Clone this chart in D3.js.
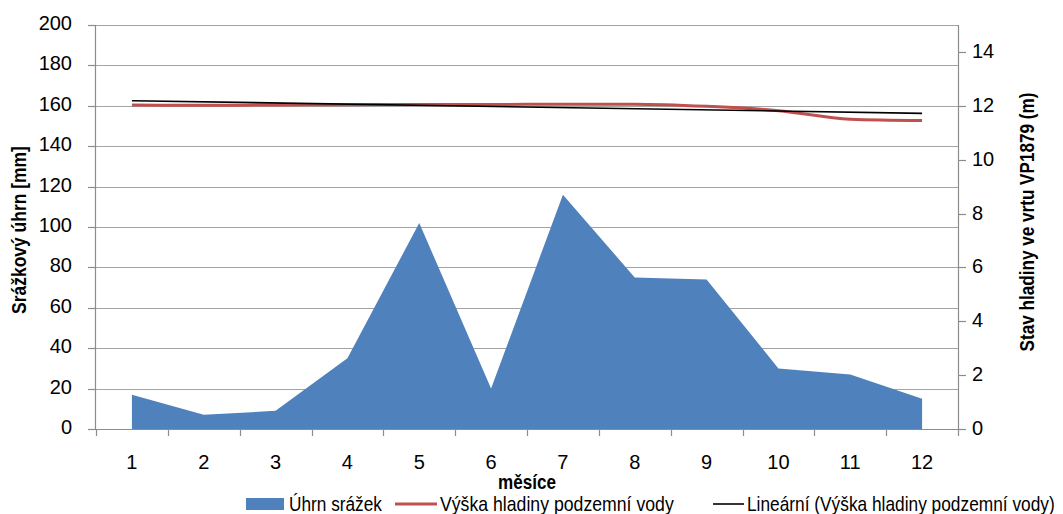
<!DOCTYPE html>
<html>
<head>
<meta charset="utf-8">
<script src="https://cdn.jsdelivr.net/npm/d3@7"></script>
<style>
  html, body { margin: 0; padding: 0; background: #fff; }
  svg { display: block; }
  text { font-family: 'Liberation Sans Narrow', 'Liberation Sans', Arial, sans-serif; fill: #000; }
</style>
</head>
<body>
<svg id="chart" width="1063" height="514"></svg>
<script>
// ---- data ----
const months = [1, 2, 3, 4, 5, 6, 7, 8, 9, 10, 11, 12];
const precipitation = [17, 7, 9, 35, 102, 20, 116, 75, 74, 30, 27, 15];            // Úhrn srážek [mm]
const waterLevel = [12.03, 12.02, 12.03, 12.04, 12.05, 12.05, 12.06, 12.06, 11.98, 11.82, 11.5, 11.45]; // m
const trendMonths = [1, 12];
const trendValues = [12.19, 11.72];                                                 // Lineární trend
const leftTicks = [0, 20, 40, 60, 80, 100, 120, 140, 160, 180, 200];
const rightTicks = [0, 2, 4, 6, 8, 10, 12, 14];
const legendLabels = ["Úhrn srážek", "Výška hladiny podzemní vody", "Lineární (Výška hladiny podzemní vody)"];
const axisTitles = { left: "Srážkový úhrn [mm]", right: "Stav hladiny ve vrtu VP1879 (m)", x: "měsíce" };

// ---- layout ----
const svg = d3.select("#chart");
const plot = { left: 96, right: 958, top: 25, bottom: 429 };
const FS = 20;

const x = d3.scaleBand().domain(months).range([plot.left, plot.right]).paddingInner(0).paddingOuter(0);
const xc = m => x(m) + x.bandwidth() / 2;
const yL = d3.scaleLinear().domain([0, 200]).range([plot.bottom, plot.top]);
const yR = d3.scaleLinear().domain([0, 15]).range([plot.bottom, plot.top]);

const gridColor = "#a3a3a3";
const axisColor = "#8c8c8c";

// condensed text helper: draws text at (x,y), rotated by rot, squeezed horizontally to a target width
function narrowText(parent, str, x, y, width, opts = {}) {
  const g = parent.append("g");
  const t = g.append("text").attr("font-size", opts.size || FS)
    .attr("font-weight", opts.bold ? "bold" : "normal")
    .attr("text-anchor", opts.anchor || "start").text(str);
  const natural = t.node().getComputedTextLength();
  const s = Math.min(1, width / natural);
  g.attr("transform", `translate(${x},${y}) rotate(${opts.rot || 0}) scale(${s},1)`);
  return g;
}

// gridlines
svg.append("g").selectAll("line").data(leftTicks).join("line")
  .attr("x1", plot.left).attr("x2", plot.right)
  .attr("y1", d => Math.round(yL(d)) + 0.5).attr("y2", d => Math.round(yL(d)) + 0.5)
  .attr("stroke", gridColor).attr("stroke-width", 1.2);

// area
const area = d3.area()
  .x((d, i) => xc(months[i]))
  .y0(yL(0))
  .y1(d => yL(d));
svg.append("path").datum(precipitation)
  .attr("d", area).attr("fill", "#4F81BD");

// water level line
const line = d3.line()
  .x((d, i) => xc(months[i]))
  .y(d => yR(d))
  .curve(d3.curveMonotoneX);
svg.append("path").datum(waterLevel)
  .attr("d", line).attr("fill", "none").attr("stroke", "#C0504D").attr("stroke-width", 3);

// trend line
svg.append("path").datum(trendValues)
  .attr("d", d3.line().x((d, i) => xc(trendMonths[i])).y(d => yR(d)))
  .attr("fill", "none").attr("stroke", "#000").attr("stroke-width", 1.6);

// axes lines
const ax = svg.append("g").attr("stroke", axisColor).attr("stroke-width", 1.2);
ax.append("line").attr("x1", plot.left - 0.5).attr("x2", plot.left - 0.5).attr("y1", plot.top).attr("y2", plot.bottom + 0.5);
ax.append("line").attr("x1", plot.right + 0.5).attr("x2", plot.right + 0.5).attr("y1", plot.top).attr("y2", plot.bottom + 0.5);
ax.append("line").attr("x1", plot.left - 8).attr("x2", plot.right + 8).attr("y1", plot.bottom + 0.5).attr("y2", plot.bottom + 0.5);

// left ticks
ax.selectAll(".lt").data(leftTicks).join("line")
  .attr("x1", plot.left - 8).attr("x2", plot.left)
  .attr("y1", d => Math.round(yL(d)) + 0.5).attr("y2", d => Math.round(yL(d)) + 0.5);
// right ticks
ax.selectAll(".rt").data(rightTicks).join("line")
  .attr("x1", plot.right).attr("x2", plot.right + 8)
  .attr("y1", d => Math.round(yR(d)) + 0.5).attr("y2", d => Math.round(yR(d)) + 0.5);
// x ticks (category boundaries)
const bounds = months.map(m => x(m)).concat([plot.right]);
ax.selectAll(".xt").data(bounds).join("line")
  .attr("x1", d => Math.round(d) + 0.5).attr("x2", d => Math.round(d) + 0.5)
  .attr("y1", plot.bottom).attr("y2", plot.bottom + 7);

// tick labels
svg.append("g").selectAll("text").data(leftTicks).join("text")
  .attr("x", 72).attr("y", d => yL(d) + 5).attr("text-anchor", "end")
  .attr("font-size", FS).text(d => d);
svg.append("g").selectAll("text").data(rightTicks).join("text")
  .attr("x", 972).attr("y", d => yR(d) + 6).attr("text-anchor", "start")
  .attr("font-size", FS).text(d => d);
svg.append("g").selectAll("text").data(months).join("text")
  .attr("x", d => xc(d)).attr("y", 469).attr("text-anchor", "middle")
  .attr("font-size", FS).text(d => d);

// axis titles (condensed to match the narrow original face)
narrowText(svg, axisTitles.x, (plot.left + plot.right) / 2, 489, 58, { bold: true, anchor: "middle" });
narrowText(svg, axisTitles.left, 26, 230, 168, { bold: true, anchor: "middle", rot: -90 });
narrowText(svg, axisTitles.right, 1034, 222, 259, { bold: true, anchor: "middle", rot: -90 });

// legend
const lg = svg.append("g");
const ly = 504;
lg.append("rect").attr("x", 246).attr("y", ly - 6).attr("width", 38).attr("height", 12).attr("fill", "#4F81BD");
narrowText(lg, legendLabels[0], 289, ly + 7, 93);
lg.append("line").attr("x1", 395).attr("x2", 437).attr("y1", ly).attr("y2", ly).attr("stroke", "#C0504D").attr("stroke-width", 3);
narrowText(lg, legendLabels[1], 440, ly + 7, 234);
lg.append("line").attr("x1", 713).attr("x2", 744).attr("y1", ly).attr("y2", ly).attr("stroke", "#000").attr("stroke-width", 1.6);
narrowText(lg, legendLabels[2], 747, ly + 7, 308);
</script>
</body>
</html>
